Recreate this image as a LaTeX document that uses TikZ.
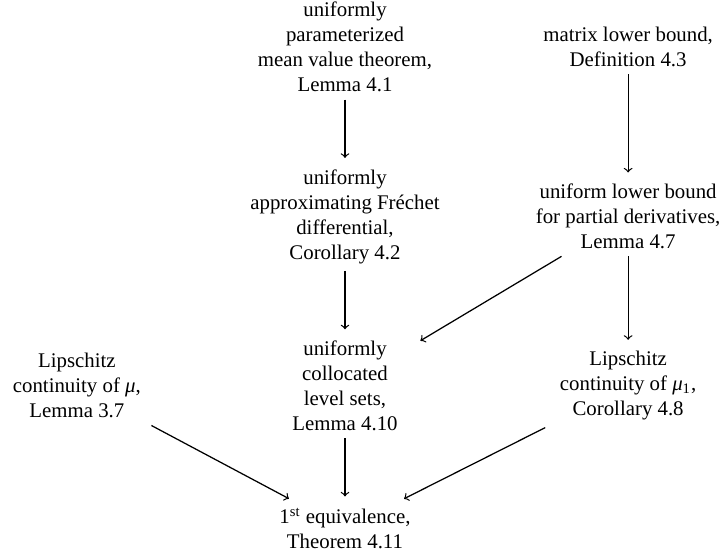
\documentclass[tikz,border=0pt]{standalone}
\usepackage{fontspec}
\setmainfont{Liberation Serif}
\usepackage{tikz}
\usetikzlibrary{positioning}
\usetikzlibrary{arrows}

\begin{document}
\begin{tikzpicture}[node distance=30pt,
    R/.style={align=center, inner xsep=9pt},
    A/.style={semithick, ->, shorten >=2pt}]
    \node[R] (l41) {uniformly\\parameterized\\mean value theorem,\\Lemma 4.1};
    \node[R] (d43) [on grid, right=135.9pt of l41] {matrix lower bound,\\Definition 4.3};

    \node[R] (c42) [below=of l41] {uniformly\\approximating Fr\'echet\\differential,\\Corollary 4.2};
    \node[R] (l47) at (c42 -| d43) {uniform lower bound\\for partial derivatives,\\Lemma 4.7};

    \node[R] (l410) [below=of c42] {uniformly\\collocated\\level sets,\\Lemma 4.10};
    \node[R] (l37) [on grid, left=128.7pt of l410] {Lipschitz\\continuity of \textit{μ},\\Lemma 3.7};
    \node[R] (c48) at (l410 -| d43) {Lipschitz\\continuity of \textit{μ}\textsubscript{1},\\Corollary 4.8};

    \node[R] (t411) [below=of l410] {1\textsuperscript{st} equivalence,\\Theorem 4.11};

    \draw[A] (l41) -- (c42);
    \draw[A] (d43) -- (l47);
    \draw[A] (c42) -- (l410);
    \draw[A] (l47) -- (l410);
    \draw[A] (l47) -- (c48);
    \draw[A] (l37) -- (t411);
    \draw[A] (l410) -- (t411);
    \draw[A] (c48) -- (t411);

    % margins of the page
    \coordinate (bbtop) at ([yshift=-2.46pt]l41.north);
    \coordinate (bbbot) at ([yshift=2.43pt]t411.south);
    \coordinate (bbl) at ([xshift=-165.6pt]l41.center);
    \coordinate (bbr) at ([xshift=180pt]l41.center);
    \pgfresetboundingbox
    \useasboundingbox (bbl |- bbtop) rectangle (bbr |- bbbot);
\end{tikzpicture}
\end{document}
